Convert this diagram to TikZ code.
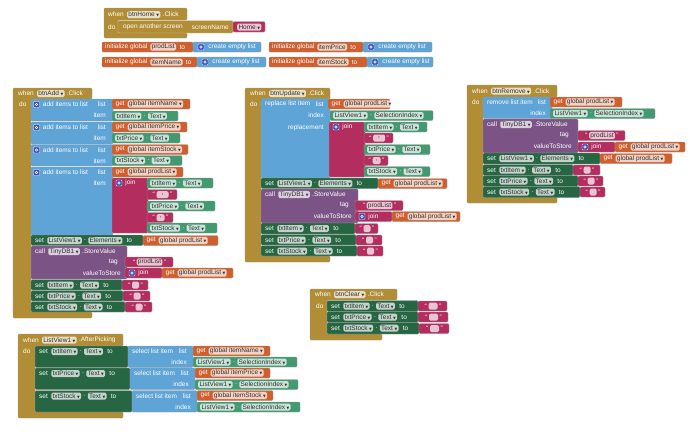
\documentclass[tikz,border=0pt]{standalone}
\usepackage{fontspec}
\setmainfont{Liberation Sans}
\newfontfamily\symf{DejaVu Sans}
\usetikzlibrary{positioning}

\definecolor{ctrlc}{HTML}{B18E35}
\definecolor{listc}{HTML}{5FA4D6}
\definecolor{varc}{HTML}{D05F2D}
\definecolor{setc}{HTML}{266643}
\definecolor{getc}{HTML}{439970}
\definecolor{methc}{HTML}{7C5385}
\definecolor{textc}{HTML}{B32D5E}
\definecolor{mutc}{HTML}{3F4FB3}

\newcommand\fs{\fontsize{6.5}{7}\selectfont}
\newcommand\dd{\hspace{1.5pt}{\symf\fontsize{3.5}{4}\selectfont ▼}}

% event block outline: x1 y1 xh yh xi yb xb y2
\newcommand\evtshape[8]{%
  \path[blk, fill=ctrlc] (#1,#2) -- (#3,#2) -- (#3,#4) -- (#5,#4) -- (#5,#6)
    -- (#7,#6) -- (#7,#8) -- (#1,#8) -- cycle;}
% event header: name x y component event
\newcommand\evthead[5]{%
  \node[lbl] (#1) at (#2,#3) {when};
  \node[chip, right=3pt of #1] (#1c) {#4\dd};
  \node[lbl, right=2pt of #1c] (#1e) {.#5};}
% global init: name x1 y x2 x3 variable
\newcommand\initb[6]{%
  \path[blk, fill=varc] (#2,#3) rectangle (#4,#3+10);
  \path[blk, fill=listc] (#4,#3) rectangle (#5,#3+10);
  \node[lbl] (#1) at (#2+3,#3+5) {initialize global};
  \node[chip, right=2.5pt of #1] (#1v) {#6};
  \node[lbl, right=3pt of #1v] (#1t) {to};
  \node[mut] (#1m) at (#4+8,#3+5) {};
  \node[lbl, right=4pt of #1m] (#1l) {create empty list};}
% get global: name x1 y1 x2 variable
\newcommand\getb[5]{%
  \path[blk, fill=varc] (#2,#3) rectangle (#4,#3+10);
  \node[lbl] (#1) at (#2+3.5,#3+5) {get};
  \node[chip, right=2.5pt of #1] (#1v) {global #5\dd};}
% component getter: name x1 y1 x2 component property
\newcommand\propb[6]{%
  \path[blk, fill=getc] (#2,#3) rectangle (#4,#3+10);
  \node[chip] (#1) at (#2+3,#3+5) {#5\dd};
  \node[lbl, right=2pt of #1] (#1d) {.};
  \node[chip, right=2pt of #1d] (#1p) {#6\dd};}
% text: name x1 y1 x2 chipwidth text
\newcommand\strb[6]{%
  \path[blk, fill=textc] (#2,#3) rectangle (#4,#3+10);
  \node[chip, anchor=center, minimum width=#5] (#1s) at ({(#2+#4)/2+.5},#3+5) {#6};
  \node[lbl, anchor=east] (#1) at ([xshift=-1.2pt]#1s.west) {“};
  \node[lbl, right=1.2pt of #1s] (#1q) {”};}
% setter: name x1 y1 x2 y2 component property
\newcommand\setb[7]{%
  \path[blk, fill=setc] (#2,#3) rectangle (#4,#5);
  \node[lbl] (#1) at (#2+4,#3+5.5) {set};
  \node[chip, right=3pt of #1] (#1c) {#6\dd};
  \node[lbl, right=2pt of #1c] (#1d) {.};
  \node[chip, right=2pt of #1d] (#1p) {#7\dd};
  \node[lbl, right=4pt of #1p] (#1t) {to};}
% join: name x1 y1 x2 y2
\newcommand\joinb[5]{%
  \path[blk, fill=textc] (#2,#3) rectangle (#4,#5);
  \node[mut] (#1) at (#2+7,#3+5) {};
  \node[lbl, right=3pt of #1] (#1j) {join};}
% TinyDB1.StoreValue: name x1 y1 x2 y2
\newcommand\callb[5]{%
  \path[blk, fill=methc] (#2,#3) rectangle (#4,#5);
  \node[lbl] (#1) at (#2+4,#3+5.5) {call};
  \node[chip, right=3pt of #1] (#1c) {TinyDB1\dd};
  \node[lbl, right=2pt of #1c] (#1m) {.StoreValue};
  \node[lbl, anchor=east] (#1tg) at (#4-9,#3+16.5) {tag};
  \node[lbl, anchor=east] (#1vs) at (#4-6,#3+27.5) {valueToStore};}
% add items to list: name x1 y1 x2 y2
\newcommand\addb[5]{%
  \path[blk, fill=listc] (#2,#3) rectangle (#4,#5);
  \node[mut] (#1) at (#2+5.5,#3+5.5) {};
  \node[lbl, right=3pt of #1] (#1l) {add items to list};
  \node[lbl, anchor=east] (#1a) at (#4-7,#3+5.5) {list};
  \node[lbl, anchor=east] (#1b) at (#4-7,#3+16.5) {item};}
% select list item: name x1 y1 x2 y2
\newcommand\selb[5]{%
  \path[blk, fill=listc] (#2,#3) rectangle (#4,#5);
  \node[lbl] (#1) at (#2+4,#3+5.5) {select list item};
  \node[lbl, anchor=east] (#1a) at (#4-6,#3+5.5) {list};
  \node[lbl, anchor=east] (#1b) at (#4-6,#3+16.5) {index};}

\begin{document}
\begin{tikzpicture}[x=1pt, y=-1pt, font=\fs,
    blk/.style={draw=black!40, line width=.3pt, rounded corners=1.2pt},
    lbl/.style={text=white, inner sep=0pt, anchor=west},
    chip/.style={fill=white, fill opacity=.72, text opacity=1, text=black!80,
                 rounded corners=1.5pt, inner xsep=1.3pt, inner ysep=.6pt,
                 minimum height=7pt, anchor=west},
    mut/.style={fill=mutc, draw=white, line width=.4pt, minimum size=6pt,
                inner sep=0pt, rounded corners=.8pt,
                path picture={\draw[white, line width=.5pt]
                  (path picture bounding box.center) circle (1.2pt);}}
  ]
  \fill[white] (0,0) rectangle (690,437);
  \useasboundingbox (0,0) rectangle (690,437);

  % btnHome.Click
  \evtshape{104}{8}{187}{20}{118}{33}{187}{38}
  \path[blk, fill=ctrlc, draw=white!55!ctrlc] (118,20.5) rectangle (233,33);
  \evthead{home}{108}{14.5}{btnHome}{Click}
  \node[lbl] (homeDo) at (108,27) {do};
  \node[lbl] (openScr) at (123,27) {open another screen};
  \node[lbl, anchor=east] (scrName) at (229,27) {screenName};
  \path[blk, fill=textc] (233,21.5) rectangle (265,32);
  \node[chip] (homeName) at (237,27) {Home\dd};

  % globals
  \initb{gProd}{102}{42}{193}{261}{prodList}
  \initb{gPrice}{269}{42}{363}{432}{itemPrice}
  \initb{gName}{102}{57}{197}{266}{itemName}
  \initb{gStock}{269}{57}{367}{433}{itemStock}

  % btnAdd.Click
  \evtshape{13}{88}{92}{99}{31}{312}{92}{318}
  \evthead{add}{18}{93.5}{btnAdd}{Click}
  \node[lbl] (addDo) at (19,104) {do};
  \addb{addA}{31}{99}{113}{121}
  \getb{addAg}{112}{99}{190}{itemName}
  \propb{addAp}{112}{111}{178}{txtItem}{Text}
  \addb{addB}{31}{122}{113}{144}
  \getb{addBg}{112}{122}{187}{itemPrice}
  \propb{addBp}{112}{133}{180}{txtPrice}{Text}
  \addb{addC}{31}{144.5}{113}{166}
  \getb{addCg}{112}{144.5}{188}{itemStock}
  \propb{addCp}{112}{155.5}{182}{txtStock}{Text}
  \addb{addD}{31}{167}{113}{235}
  \getb{addDg}{112}{167}{183}{prodList}
  \joinb{addJ}{112}{178}{148}{233}
  \propb{addJa}{147}{178}{213}{txtItem}{Text}
  \strb{addJb}{147}{189.5}{177}{12pt}{,}
  \propb{addJc}{147}{201}{215}{txtPrice}{Text}
  \strb{addJd}{147}{212.5}{173}{8pt}{,}
  \propb{addJe}{147}{223}{217}{txtStock}{Text}
  \setb{addL}{31}{235}{143}{245.5}{ListView1}{Elements}
  \getb{addLg}{143}{235.5}{218}{prodList}
  \callb{addS}{31}{246}{127}{279}
  \strb{addSt}{125}{257}{173}{0pt}{prodList}
  \joinb{addSj}{125}{268}{162}{278}
  \getb{addSg}{162}{268}{233}{prodList}
  \setb{addT1}{31}{279.5}{122}{290}{txtItem}{Text}
  \strb{addT1s}{122}{280}{148}{7pt}{}
  \setb{addT2}{31}{290.5}{123}{301}{txtPrice}{Text}
  \strb{addT2s}{123}{291}{150}{7pt}{}
  \setb{addT3}{31}{301.5}{125}{312}{txtStock}{Text}
  \strb{addT3s}{125}{302}{152}{7pt}{}

  % btnUpdate.Click
  \evtshape{245}{88}{330}{99}{261}{256}{330}{262}
  \evthead{upd}{250}{93.5}{btnUpdate}{Click}
  \node[lbl] (updDo) at (250,104) {do};
  \path[blk, fill=listc] (261,98.5) rectangle (330,178);
  \node[lbl] (updR) at (265,104) {replace list item};
  \node[lbl, anchor=east] (updRa) at (324,104) {list};
  \node[lbl, anchor=east] (updRb) at (324,115.5) {index};
  \node[lbl, anchor=east] (updRc) at (324,127.5) {replacement};
  \getb{updRg}{328}{99}{390}{prodList}
  \propb{updRi}{330}{110.5}{433}{ListView1}{SelectionIndex}
  \joinb{updJ}{329}{122}{365}{177}
  \propb{updJa}{364}{122}{427}{txtItem}{Text}
  \strb{updJb}{364}{133}{393}{12pt}{,}
  \propb{updJc}{364}{144.5}{430}{txtPrice}{Text}
  \strb{updJd}{364}{155.5}{388}{8pt}{,}
  \propb{updJe}{364}{166.5}{430}{txtStock}{Text}
  \setb{updL}{261}{178}{378}{188.5}{ListView1}{Elements}
  \getb{updLg}{378}{178.5}{447}{prodList}
  \callb{updS}{261}{189}{358}{223}
  \strb{updSt}{355}{200.5}{403}{0pt}{prodList}
  \joinb{updSj}{355}{211.5}{392}{221.5}
  \getb{updSg}{392}{211.5}{460}{prodList}
  \setb{updT1}{261}{223}{355}{234}{txtItem}{Text}
  \strb{updT1s}{355}{223.5}{378}{7pt}{}
  \setb{updT2}{261}{234.5}{356}{245}{txtPrice}{Text}
  \strb{updT2s}{356}{235}{382}{7pt}{}
  \setb{updT3}{261}{245.5}{357}{256}{txtStock}{Text}
  \strb{updT3s}{357}{246}{383}{7pt}{}

  % btnRemove.Click
  \evtshape{467}{85}{557}{97}{483}{197}{557}{203}
  \evthead{rem}{472}{91}{btnRemove}{Click}
  \node[lbl] (remDo) at (472,102) {do};
  \path[blk, fill=listc] (483,97) rectangle (552,118.5);
  \node[lbl] (remR) at (487,102) {remove list item};
  \node[lbl, anchor=east] (remRa) at (546,102) {list};
  \node[lbl, anchor=east] (remRb) at (546,113.5) {index};
  \getb{remRg}{550}{97}{622}{prodList}
  \propb{remRi}{550}{108.5}{655}{ListView1}{SelectionIndex}
  \callb{remS}{483}{119}{578}{153}
  \strb{remSt}{578}{130.5}{625}{0pt}{prodList}
  \joinb{remSj}{578}{142}{615}{152}
  \getb{remSg}{615}{142}{685}{prodList}
  \setb{remL}{483}{153}{600}{164}{ListView1}{Elements}
  \getb{remLg}{600}{153.5}{672}{prodList}
  \setb{remT1}{483}{164.5}{573}{175.5}{txtItem}{Text}
  \strb{remT1s}{573}{165}{600}{7pt}{}
  \setb{remT2}{483}{175.5}{578}{186.5}{txtPrice}{Text}
  \strb{remT2s}{578}{176}{603}{7pt}{}
  \setb{remT3}{483}{186.5}{580}{197.5}{txtStock}{Text}
  \strb{remT3s}{580}{187}{605}{7pt}{}

  % btnClear.Click
  \evtshape{310}{289}{397}{300}{327}{334}{382}{340}
  \evthead{clr}{315}{294.5}{btnClear}{Click}
  \node[lbl] (clrDo) at (316,306) {do};
  \setb{clrT1}{327}{300.5}{418}{311.5}{txtItem}{Text}
  \strb{clrT1s}{418}{301}{447}{9pt}{}
  \setb{clrT2}{327}{311.5}{418}{322.5}{txtPrice}{Text}
  \strb{clrT2s}{418}{312}{448}{9pt}{}
  \setb{clrT3}{327}{322.5}{419}{334}{txtStock}{Text}
  \strb{clrT3s}{419}{323.5}{449}{9pt}{}

  % ListView1.AfterPicking
  \evtshape{18}{334}{123}{346}{35}{412}{123}{418}
  \evthead{lvp}{23}{340}{ListView1}{AfterPicking}
  \node[lbl] (lvpDo) at (23,351.5) {do};
  \setb{lvpT1}{35}{346}{128}{367.5}{txtItem}{Text}
  \selb{lvpS1}{128}{346}{193}{367.5}
  \getb{lvpS1g}{193}{346}{270}{itemName}
  \propb{lvpS1i}{193}{357}{297}{ListView1}{SelectionIndex}
  \setb{lvpT2}{35}{368}{130}{389.5}{txtPrice}{Text}
  \selb{lvpS2}{130}{368}{195}{389.5}
  \getb{lvpS2g}{195}{368}{270}{itemPrice}
  \propb{lvpS2i}{195}{379.5}{298}{ListView1}{SelectionIndex}
  \setb{lvpT3}{35}{390.5}{132}{412}{txtStock}{Text}
  \selb{lvpS3}{132}{390.5}{197}{412}
  \getb{lvpS3g}{197}{390.5}{273}{itemStock}
  \propb{lvpS3i}{197}{402}{300}{ListView1}{SelectionIndex}
\end{tikzpicture}
\end{document}
